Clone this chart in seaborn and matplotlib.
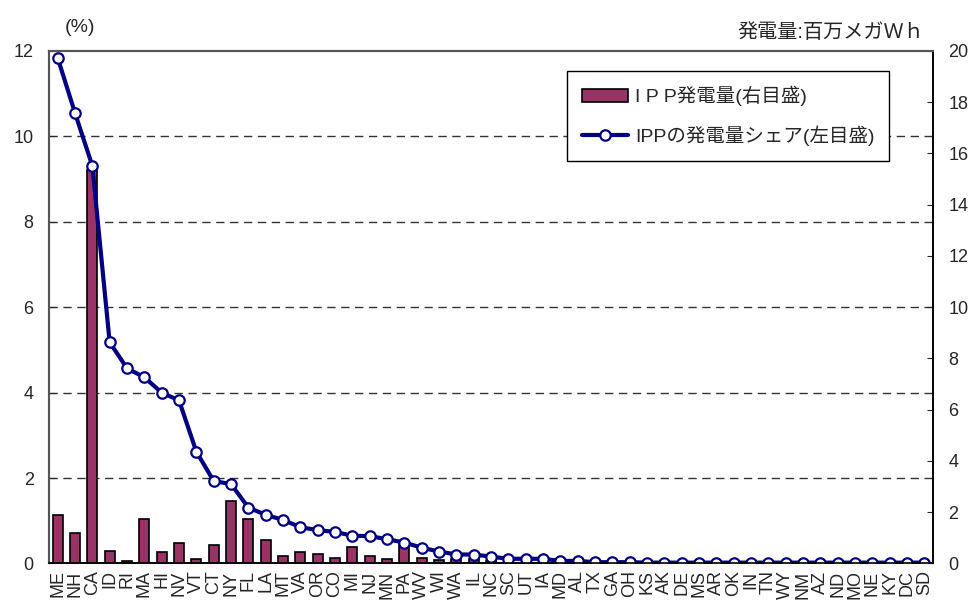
import numpy as np
import pandas as pd
import matplotlib
matplotlib.use("Agg")
import matplotlib.pyplot as plt
import matplotlib.transforms as mtransforms
import seaborn as sns

# data
states = ['ME', 'NH', 'CA', 'ID', 'RI', 'MA', 'HI', 'NV', 'VT', 'CT',
          'NY', 'FL', 'LA', 'MT', 'VA', 'OR', 'CO', 'MI', 'NJ', 'MN',
          'PA', 'WV', 'WI', 'WA', 'IL', 'NC', 'SC', 'UT', 'IA', 'MD',
          'AL', 'TX', 'GA', 'OH', 'KS', 'AK', 'DE', 'MS', 'AR', 'OK',
          'IN', 'TN', 'WY', 'NM', 'AZ', 'ND', 'MO', 'NE', 'KY', 'DC', 'SD']
# IPP generation (million MWh, right axis)
ipp_gen = [1.89, 1.17, 15.36, 0.50, 0.08, 1.74, 0.43, 0.79, 0.18, 0.72,
           2.45, 1.75, 0.92, 0.29, 0.44, 0.37, 0.23, 0.64, 0.29, 0.16,
           0.74, 0.23, 0.13, 0.19, 0.19, 0.08, 0.03, 0.02, 0.02, 0.02,
           0.01, 0.01, 0.01, 0.01, 0.0, 0.0, 0.0, 0.0, 0.0, 0.0,
           0.0, 0.0, 0.0, 0.0, 0.0, 0.0, 0.0, 0.0, 0.0, 0.0, 0.0]
# IPP share of generation (%, left axis)
ipp_share = [11.84, 10.55, 9.31, 5.18, 4.57, 4.36, 4.00, 3.82, 2.62, 1.93,
             1.86, 1.31, 1.14, 1.02, 0.85, 0.78, 0.74, 0.65, 0.64, 0.57,
             0.49, 0.37, 0.28, 0.21, 0.21, 0.16, 0.11, 0.11, 0.11, 0.06,
             0.06, 0.03, 0.03, 0.03, 0.02, 0.02, 0.02, 0.02, 0.02, 0.02,
             0.02, 0.02, 0.02, 0.02, 0.02, 0.02, 0.02, 0.02, 0.02, 0.02, 0.02]
left_ticks = [0, 2, 4, 6, 8, 10, 12]
right_ticks = [0, 2, 4, 6, 8, 10, 12, 14, 16, 18, 20]
label_bar = 'I P P発電量(右目盛)'
label_line = 'IPPの発電量シェア(左目盛)'

sns.set_style('white')
plt.rcParams['font.family'] = ['Liberation Sans', 'Noto Sans CJK JP', 'DejaVu Sans']

df = pd.DataFrame({'state': states, 'gen': ipp_gen, 'share': ipp_share})
n = len(states)

fig = plt.figure(figsize=(9.72, 6.07), dpi=100)
ax_bar = fig.add_axes([0.0504, 0.0717, 0.9095, 0.8443])

sns.barplot(data=df, x='state', y='gen', color='#993366', edgecolor='black',
            linewidth=1.2, width=0.58, saturation=1, ax=ax_bar, zorder=2)

ax_line = ax_bar.twinx()
ax_bar.yaxis.tick_right()
ax_line.yaxis.tick_left()

sns.lineplot(x=np.arange(n), y=df['share'], ax=ax_line, color='#000080',
             lw=3, marker='o', markersize=7.5, markerfacecolor='white',
             markeredgecolor='#000080', markeredgewidth=1.6)

# dashed gridlines at the left-axis ticks, drawn behind the bars
ax_line.set_ylim(0, 12)
trans = mtransforms.blended_transform_factory(ax_bar.transAxes, ax_line.transData)
for v in left_ticks[1:-1]:
    ax_bar.plot([0, 1], [v, v], transform=trans, ls=(0, (6, 4)),
                color='#333333', lw=1, zorder=0.5)
ax_bar.set_xlim(-0.5, n - 0.5)
ax_bar.set_ylim(0, 20)

ax_bar.set_xlabel('')
ax_bar.set_ylabel('')
ax_line.set_xlabel('')
ax_line.set_ylabel('')

ax_bar.set_xticks(np.arange(n))
ax_bar.set_xticklabels(states, rotation=90, fontsize=13)
ax_bar.set_xticks(np.arange(n + 1) - 0.5, minor=True)
ax_bar.tick_params(axis='x', which='major', length=0, pad=5)
ax_bar.tick_params(axis='x', which='minor', direction='in', length=5,
                   width=1, color='black')

ax_bar.set_yticks(right_ticks)
ax_bar.tick_params(axis='y', direction='in', length=4, labelsize=13, pad=11,
                   right=True, left=False, labelright=True, labelleft=False)
ax_line.set_yticks(left_ticks)
ax_line.tick_params(axis='y', direction='in', length=4, labelsize=13, pad=11)

for a in (ax_bar, ax_line):
    for side in ('left', 'top'):
        a.spines[side].set_color('#555555')
        a.spines[side].set_linewidth(1.5)
    for side in ('right', 'bottom'):
        a.spines[side].set_color('black')
        a.spines[side].set_linewidth(1.2)
    a.spines[:].set_visible(True)

leg = ax_line.legend([ax_bar.containers[0], ax_line.lines[0]],
                     [label_bar, label_line],
                     loc='center', bbox_to_anchor=(728 / 972, 1 - 116 / 607),
                     bbox_transform=fig.transFigure,
                     fontsize=14, frameon=True, fancybox=False,
                     edgecolor='black', framealpha=1, handlelength=2.4,
                     labelspacing=1.0, borderpad=0.75, handletextpad=0.35)
leg.get_frame().set_linewidth(1)

fig.text(80 / 972, 1 - 27 / 607, '(%)', ha='center', va='center', fontsize=14)
fig.text(924 / 972, 1 - 33 / 607, '発電量:百万メガＷｈ', ha='right',
         va='center', fontsize=14.5)

fig.savefig('out.png', dpi=100)
